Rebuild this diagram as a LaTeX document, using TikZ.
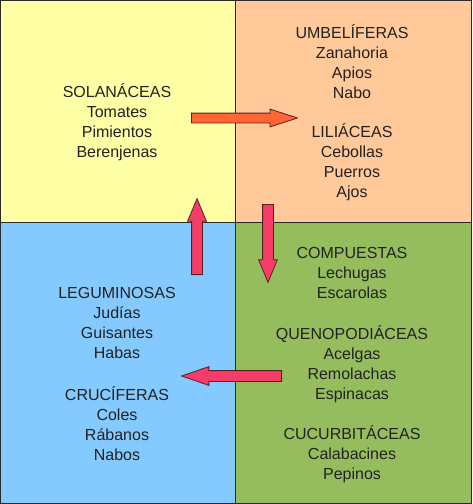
\documentclass[tikz,border=0pt]{standalone}
\usepackage{fontspec}
\setmainfont{Liberation Sans}
\usetikzlibrary{shapes.arrows}
\definecolor{solan}{HTML}{FFFFA6}
\definecolor{umbel}{HTML}{FFC99A}
\definecolor{legum}{HTML}{84CAFF}
\definecolor{compu}{HTML}{95BD5E}
\definecolor{rotor}{HTML}{FF6633}
\definecolor{rotpk}{HTML}{F53D6A}
\definecolor{borde}{HTML}{2A2A2A}
\definecolor{texto}{HTML}{222222}

\begin{document}
\begin{tikzpicture}[x=1pt, y=-1pt,
    cuadro/.style={draw=borde, line width=1pt},
    grupo/.style={align=center, inner sep=0pt, text=texto, font=\fontsize{16}{20}\selectfont},
    flecha/.style={single arrow, draw=borde!80!red, line width=0.8pt, inner sep=5pt, anchor=tail,
                   single arrow head extend=4pt, single arrow tip angle=45}]
  \useasboundingbox (0,0) rectangle (472,504);
  % ================================================================== the four beds
  \draw[cuadro, fill=solan] (0.5,0.5) rectangle (235,222);
  \draw[cuadro, fill=umbel] (235,0.5) rectangle (471.5,222);
  \draw[cuadro, fill=legum] (0.5,222) rectangle (235,503.5);
  \draw[cuadro, fill=compu] (235,222) rectangle (471.5,503.5);
  % ================================================================== families
  \node[grupo] (solanaceas) at (117,122) {SOLANÁCEAS\\Tomates\\Pimientos\\Berenjenas};
  \node[grupo] (umbeliferas) at (352,62) {UMBELÍFERAS\\Zanahoria\\Apios\\Nabo};
  \node[grupo] (liliaceas) at (352,162) {LILIÁCEAS\\Cebollas\\Puerros\\Ajos};
  \node[grupo] (compuestas) at (352,273) {COMPUESTAS\\Lechugas\\Escarolas};
  \node[grupo] (quenopodiaceas) at (352,364) {QUENOPODIÁCEAS\\Acelgas\\Remolachas\\Espinacas};
  \node[grupo] (cucurbitaceas) at (352,454) {CUCURBITÁCEAS\\Calabacines\\Pepinos};
  \node[grupo] (leguminosas) at (117,323) {LEGUMINOSAS\\Judías\\Guisantes\\Habas};
  \node[grupo] (cruciferas) at (117,424) {CRUCÍFERAS\\Coles\\Rábanos\\Nabos};
  % ================================================================== rotation (tail given)
  \node[flecha, fill=rotor, inner sep=4.5pt, single arrow tip angle=36, minimum height=106pt] (rot1) at (191,118) {};
  \node[flecha, fill=rotpk, minimum height=78pt, rotate=-90] (rot2) at (268,204) {};
  \node[flecha, fill=rotpk, minimum height=100pt, rotate=180, single arrow tip angle=38] (rot3) at (282,376) {};
  \node[flecha, fill=rotpk, minimum height=76pt, rotate=90] (rot4) at (197,275) {};
\end{tikzpicture}
\end{document}
